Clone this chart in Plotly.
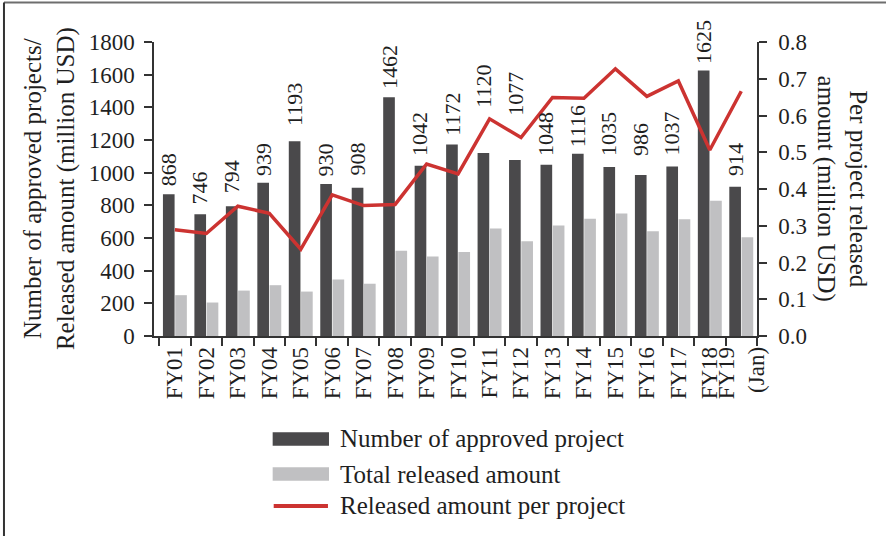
import plotly.graph_objects as go

categories = ["FY01", "FY02", "FY03", "FY04", "FY05", "FY06", "FY07", "FY08", "FY09", "FY10",
              "FY11", "FY12", "FY13", "FY14", "FY15", "FY16", "FY17", "FY18", "FY19<br>(Jan)"]
approved_projects = [868, 746, 794, 939, 1193, 930, 908, 1462, 1042, 1172,
                     1120, 1077, 1048, 1116, 1035, 986, 1037, 1625, 914]
released_total = [250, 205, 278, 311, 272, 346, 320, 522, 486, 515,
                  658, 580, 676, 718, 750, 641, 715, 828, 604]
per_project = [0.289, 0.279, 0.353, 0.334, 0.236, 0.384, 0.355, 0.358, 0.468, 0.441,
               0.591, 0.540, 0.649, 0.647, 0.727, 0.652, 0.694, 0.506, 0.666]

# label placement (pixel gap between bar top and label), style only
label_gap_px = [8, 10, 13, 7, 15, 8, 12, 8, 10, 9, 45, 44, 9, 6, 11, 19, 11, 7, 11]

DARK = "#4a494b"
LIGHT = "#c0c0c2"
RED = "#cc3331"
FONT = "Liberation Serif"
TXT = "#1f1f1f"

fig = go.Figure()
fig.add_trace(go.Bar(
    x=categories, y=approved_projects, name="Number of approved project",
    marker=dict(color=DARK, line=dict(width=0)), showlegend=False))
fig.add_trace(go.Bar(
    x=categories, y=released_total, name="Total released amount",
    marker=dict(color=LIGHT, line=dict(width=0)), showlegend=False))
fig.add_trace(go.Scatter(
    x=categories, y=per_project, name="Released amount per project", yaxis="y2",
    mode="lines", line=dict(color=RED, width=3.5), showlegend=False))

# value labels above the dark bars
for cat, val, gap in zip(categories, approved_projects, label_gap_px):
    fig.add_annotation(x=cat, y=val, xref="x", yref="y", text=str(val), textangle=-90,
                       showarrow=False, xanchor="center", yanchor="bottom",
                       xshift=-6.4, yshift=gap - 2,
                       font=dict(family=FONT, size=22, color=TXT))

axis_common = dict(showline=True, linecolor="#333333", linewidth=1.5, ticks="outside",
                   ticklen=8, tickcolor="#333333", tickwidth=1.5, showgrid=False,
                   zeroline=False, tickfont=dict(family=FONT, size=23, color=TXT))

fig.update_layout(
    width=886, height=536,
    margin=dict(l=154, r=129, t=42, b=200),
    paper_bgcolor="white", plot_bgcolor="white",
    barmode="group", bargap=0.22, bargroupgap=0.05,
    xaxis=dict(**axis_common, tickangle=-90, tickson="boundaries"),
    yaxis=dict(**axis_common, range=[0, 1800], dtick=200, ticklabelstandoff=5),
    yaxis2=dict(**axis_common, range=[0, 0.8], dtick=0.1, tickformat=".1f",
                overlaying="y", side="right", ticklabelstandoff=7),
    font=dict(family=FONT, color=TXT),
)

# axis titles
fig.add_annotation(xref="paper", yref="paper", x=-0.174, y=0.5, xanchor="center", yanchor="middle",
                   text="Number of approved projects/<br>Released amount (million USD)",
                   textangle=-90, showarrow=False, font=dict(family=FONT, size=25, color=TXT))
fig.add_annotation(xref="paper", yref="paper", x=1.1417, y=0.5, xanchor="center", yanchor="middle",
                   text="Per project released<br>amount (million USD)",
                   textangle=90, showarrow=False, font=dict(family=FONT, size=25, color=TXT))

# manual legend
legend_items = [("Number of approved project", "bar", DARK, -0.3503),
                ("Total released amount", "bar", LIGHT, -0.4694),
                ("Released amount per project", "line", RED, -0.5782)]
for label, kind, color, yc in legend_items:
    if kind == "bar":
        fig.add_shape(type="rect", xref="paper", yref="paper", x0=0.1968, x1=0.2902,
                      y0=yc - 0.0228, y1=yc + 0.0228, fillcolor=color, line=dict(width=0))
    else:
        fig.add_shape(type="line", xref="paper", yref="paper", x0=0.1985, x1=0.2885,
                      y0=yc, y1=yc, line=dict(color=color, width=4))
    fig.add_annotation(xref="paper", yref="paper", x=0.3046, y=yc, xanchor="left", yanchor="middle",
                       text=label, showarrow=False, font=dict(family=FONT, size=25, color=TXT))

# frame lines (top and left)
fig.add_shape(type="line", xref="paper", yref="paper", x0=-0.2488, x1=1.25, y0=1.1344, y1=1.1344,
              line=dict(color="#6e6e6e", width=2))
fig.add_shape(type="line", xref="paper", yref="paper", x0=-0.2488, x1=-0.2488, y0=1.1344, y1=-0.72,
              line=dict(color="#333333", width=2))

fig.write_html("out.html", config={"displayModeBar": False},
               post_script="document.body.style.margin='0';")
